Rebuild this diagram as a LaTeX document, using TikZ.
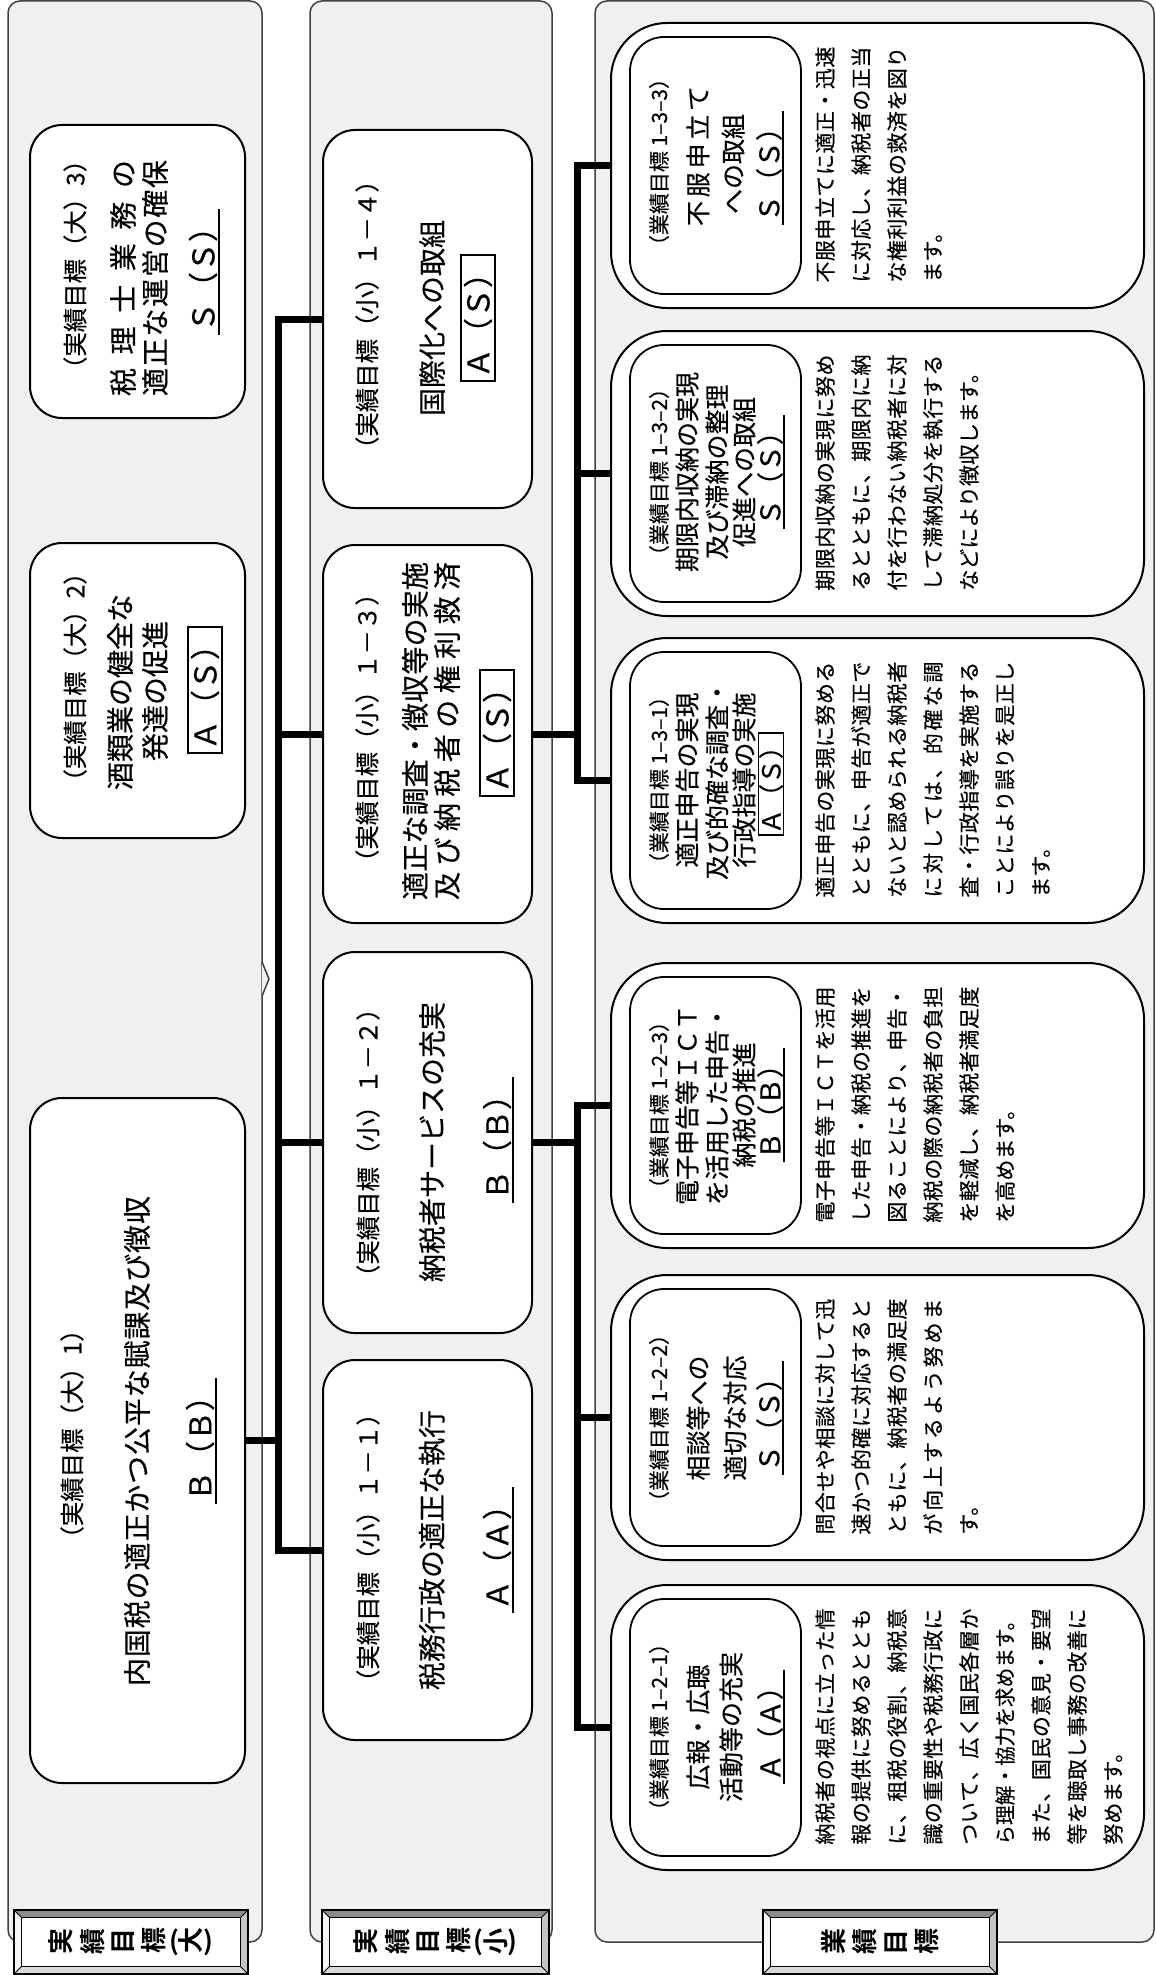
\documentclass[tikz,border=0pt]{standalone}
\usepackage{fontspec}
\usepackage{graphicx}
\newfontfamily\jp{Noto Sans CJK JP}[FakeBold=0.35]
\newfontfamily\jpb{Noto Sans CJK JP Bold}
\newdimen\pxu \pxu=0.5pt
\makeatletter
\newcommand\jsp[2]{\makebox[#1\pxu][s]{\jsp@a#2\@nil}}
\def\jsp@a#1{#1\@ifnextchar\@nil{\@gobble}{\hfil\jsp@a}}
\makeatother
\newcommand\fA{\jp\fontsize{12.2pt}{13pt}\selectfont}
\newcommand\fB{\jp\fontsize{14pt}{16pt}\selectfont}
\newcommand\fG{\jp\fontsize{15pt}{16pt}\selectfont}
\newcommand\fC{\jp\fontsize{10.5pt}{12pt}\selectfont}
\newcommand\fD{\jp\fontsize{12.5pt}{14pt}\selectfont}
\newcommand\fH{\jp\fontsize{13.5pt}{14pt}\selectfont}
\newcommand\fE{\jpb\fontsize{13pt}{13pt}\selectfont}
\newcommand\rc[1]{\rotatebox[origin=c]{90}{#1}}
\definecolor{pfill}{HTML}{F0F0F0}
\definecolor{pdraw}{HTML}{404040}
\definecolor{bvT}{HTML}{8C8C8C}
\definecolor{bvR}{HTML}{C4C4C4}
\definecolor{bvB}{HTML}{DADADA}
\definecolor{bvL}{HTML}{F6F6F6}
\tikzset{
 panel/.style={draw=pdraw, line width=0.75pt, fill=pfill, rounded corners=6pt},
 bbox/.style={draw=black, line width=1pt, fill=white, rounded corners=16pt},
 obox/.style={draw=black, line width=1pt, fill=white, rounded corners=28pt},
 ibox/.style={draw=black, line width=0.9pt, fill=white, rounded corners=17pt},
 conn/.style={line width=3.5pt, black},
 vt/.style={rotate=90, inner sep=0pt},
 frm/.style={draw, line width=0.8pt, inner xsep=1.5pt, inner ysep=1.5pt},
 ulst/.style={line width=1pt},
 bvlab/.style={draw, line width=0.75pt, fill=white, inner sep=0pt},
}
\newcommand\bx[6][]{\node[inner sep=0pt, #1, minimum width={(#5-#3)*0.5pt}, minimum height={(#6-#4)*0.5pt}] (#2) at ({(#3+#5)/2},{(#4+#6)/2}) {};}
\newcommand\vt[5][]{\node[vt,#1] (#2) at (#3,#4) {#5};}
\newcommand\ul[1]{\draw[ulst] ([xshift=0.6pt,yshift=-1.5pt]#1.south west) -- ([xshift=0.6pt,yshift=1.5pt]#1.south east);}
\newcommand\bl[4]{\node[vt,anchor=west] (#1) at (#2,#3) {\fC\jsp{236}{#4}};}
\newcommand\bn[4]{\node[vt,anchor=west] (#1) at (#2,#3) {\fC #4};}
\newcommand\bevlab[6]{%
 \node[bvlab, minimum width={(#4-#2)*0.5pt}, minimum height={(#5-#3)*0.5pt}] (#1) at ({(#2+#4)/2},{(#3+#5)/2}) {};
 \fill[bvT] (#1.north west) -- (#1.north east) -- ([shift={(-7,7)}]#1.north east) -- ([shift={(7,7)}]#1.north west) -- cycle;
 \fill[bvR] (#1.north east) -- (#1.south east) -- ([shift={(-7,-7)}]#1.south east) -- ([shift={(-7,7)}]#1.north east) -- cycle;
 \fill[bvB] (#1.south east) -- (#1.south west) -- ([shift={(7,-7)}]#1.south west) -- ([shift={(-7,-7)}]#1.south east) -- cycle;
 \fill[bvL] (#1.south west) -- (#1.north west) -- ([shift={(7,7)}]#1.north west) -- ([shift={(7,-7)}]#1.south west) -- cycle;
 \draw[line width=0.4pt] (#1.north west) -- ([shift={(7,7)}]#1.north west) (#1.north east) -- ([shift={(-7,7)}]#1.north east) (#1.south east) -- ([shift={(-7,-7)}]#1.south east) (#1.south west) -- ([shift={(7,-7)}]#1.south west);
 \draw[line width=0.5pt] ([shift={(7,7)}]#1.north west) rectangle ([shift={(-7,-7)}]#1.south east);
 \draw[line width=0.9pt] (#1.north west) rectangle (#1.south east);
 \node[inner sep=0pt] (#1t) at (#1) {#6};}
\begin{document}
\begin{tikzpicture}[x=0.5pt,y=-0.5pt]
\useasboundingbox (0,0) rectangle (1156,1975);
\fill[white] (0,0) rectangle (1156,1975);
% panels
\draw[panel] (8,1) rectangle (262,1942);
\draw[panel] (310,1) rectangle (552,1942);
\draw[panel] (595,1) rectangle (1154,1942);
\filldraw[fill=pfill, draw=pdraw, line width=0.75pt] (262,962) -- (269,979) -- (262,996);
% boxes
\bx[bbox]{d3}{30}{125}{245}{418}
\bx[bbox]{d2}{30}{543}{245}{838}
\bx[bbox]{d1}{30}{1098}{245}{1783}
\bx[bbox]{s14}{323}{130}{532}{508}
\bx[bbox]{s13}{323}{545}{532}{923}
\bx[bbox]{s12}{323}{952}{532}{1333}
\bx[bbox]{s11}{323}{1360}{532}{1740}
\bx[obox]{g133}{611}{23}{1144}{308}
\bx[obox]{g132}{611}{331}{1144}{616}
\bx[obox]{g131}{611}{638}{1144}{923}
\bx[obox]{g123}{611}{963}{1144}{1248}
\bx[obox]{g122}{611}{1275}{1144}{1560}
\bx[obox]{g121}{611}{1585}{1144}{1870}
\bx[ibox]{h133}{630}{37}{801}{294}
\bx[ibox]{h132}{630}{345}{801}{602}
\bx[ibox]{h131}{630}{652}{801}{909}
\bx[ibox]{h123}{630}{977}{801}{1234}
\bx[ibox]{h122}{630}{1289}{801}{1546}
\bx[ibox]{h121}{630}{1599}{801}{1856}
% connectors
\coordinate (bl) at (278,0);
\coordinate (br) at (577,0);
\draw[conn] (s14.west) -- (s14.west -| bl) -- (s11.west -| bl) -- (s11.west);
\draw[conn] (s13.west) -- (s13.west -| bl);
\draw[conn] (s12.west) -- (s12.west -| bl);
\draw[conn] (d1.east) -- (d1.east -| bl);
\draw[conn] (g133.west) -- (g133.west -| br) -- (g131.west -| br) -- (g131.west);
\draw[conn] (g132.west) -- (g132.west -| br);
\draw[conn] (s13.east) -- (s13.east -| br);
\draw[conn] (g123.west) -- (g123.west -| br) -- (g121.west -| br) -- (g121.west);
\draw[conn] (g122.west) -- (g122.west -| br);
\draw[conn] (s12.east) -- (s12.east -| br);
% big boxes text
\vt{d3a}{75}{271}{\fA\jsp{220}{（実績目標（大）3）}}
\vt{d3b}{123}{278}{\fB\jsp{236}{税理士業務の}}
\vt{d3c}{155}{278}{\fB\jsp{236}{適正な運営の確保}}
\vt{d3d}{203}{272}{\fG Ｓ（Ｓ）}\ul{d3d}
\vt{d2a}{75}{686}{\fA\jsp{215}{（実績目標（大）2）}}
\vt{d2b}{120}{692}{\fB 酒類業の健全な}
\vt{d2c}{155}{691}{\fB 発達の促進}
\vt[frm]{d2d}{205}{690}{\fG Ａ（Ｓ）}
\vt{d1a}{72}{1440}{\fA\jsp{221}{（実績目標（大）1）}}
\vt{d1b}{137}{1441}{\fB\jsp{490}{内国税の適正かつ公平な賦課及び徴収}}
\vt{d1c}{200}{1441}{\fG Ｂ（Ｂ）}\ul{d1c}
\vt{s14a}{367}{320}{\fA\jsp{282}{（実績目標（小）１－４）}}
\vt{s14b}{432}{318}{\fB 国際化への取組}
\vt[frm]{s14c}{478}{318}{\fG Ａ（Ｓ）}
\vt{s13a}{367}{733}{\fA\jsp{282}{（実績目標（小）１－３）}}
\vt{s13b}{415}{731}{\fB\jsp{338}{適正な調査・徴収等の実施}}
\vt{s13c}{447}{731}{\fB\jsp{338}{及び納税者の権利救済}}
\vt[frm]{s13d}{497}{733}{\fG Ａ（Ｓ）}
\vt{s12a}{368}{1145}{\fA\jsp{288}{（実績目標（小）１－２）}}
\vt{s12b}{432}{1142}{\fB 納税者サービスの充実}
\vt{s12c}{497}{1140}{\fG Ｂ（Ｂ）}\ul{s12c}
\vt{s11a}{368}{1550}{\fA\jsp{288}{（実績目標（小）１－１）}}
\vt{s11b}{432}{1550}{\fB 税務行政の適正な執行}
\vt{s11c}{497}{1550}{\fG Ａ（Ａ）}\ul{s11c}
% right titles
\vt{r133a}{659}{162}{\fC（業績目標 1–3–3）}
\vt{r133b}{698}{156}{\fD\jsp{140}{不服申立て}}
\vt{r133c}{733}{164}{\fD への取組}
\vt{r133d}{769}{168}{\fH Ｓ（Ｓ）}\ul{r133d}
\vt{r132a}{659}{472}{\fC（業績目標 1–3–2）}
\vt{r132b}{687}{472}{\fD 期限内収納の実現}
\vt{r132c}{717}{472}{\fD 及び滞納の整理}
\vt{r132d}{744}{472}{\fD 促進への取組}
\vt{r132e}{770}{472}{\fH Ｓ（Ｓ）}\ul{r132e}
\vt{r131a}{659}{780}{\fC（業績目標 1–3–1）}
\vt{r131b}{687}{780}{\fD 適正申告の実現}
\vt{r131c}{717}{780}{\fD 及び的確な調査・}
\vt{r131d}{744}{780}{\fD 行政指導の実施}
\vt[frm,inner xsep=0.5pt,inner ysep=0.3pt]{r131e}{771}{784}{\fD Ａ（Ｓ）}
\vt{r123a}{659}{1105}{\fC（業績目標 1–2–3）}
\vt{r123b}{687}{1105}{\fD 電子申告等ＩＣＴ}
\vt{r123c}{717}{1105}{\fD を活用した申告・}
\vt{r123d}{744}{1105}{\fD 納税の推進}
\vt{r123e}{770}{1105}{\fH Ｂ（Ｂ）}\ul{r123e}
\vt{r122a}{659}{1418}{\fC（業績目標 1–2–2）}
\vt{r122b}{698}{1418}{\fD 相談等への}
\vt{r122c}{735}{1418}{\fD 適切な対応}
\vt{r122d}{769}{1418}{\fH Ｓ（Ｓ）}\ul{r122d}
\vt{r121a}{659}{1727}{\fC（業績目標 1–2–1）}
\vt{r121b}{698}{1727}{\fD 広報・広聴}
\vt{r121c}{731}{1727}{\fD 活動等の充実}
\vt{r121d}{770}{1727}{\fH Ａ（Ａ）}\ul{r121d}
% body texts
\bl{b133a}{825}{283}{不服申立てに適正・迅速}
\bl{b133b}{861}{283}{に対応し、納税者の正当}
\bl{b133c}{897}{283}{な権利利益の救済を図り}
\bn{b133d}{933}{283}{ます。}
\bl{b132a}{825}{591}{期限内収納の実現に努め}
\bl{b132b}{861}{591}{るとともに、期限内に納}
\bl{b132c}{897}{591}{付を行わない納税者に対}
\bl{b132d}{933}{591}{して滞納処分を執行する}
\bn{b132e}{969}{591}{などにより徴収します。}
\bl{b131a}{825}{898}{適正申告の実現に努める}
\bl{b131b}{861}{898}{とともに、申告が適正で}
\bl{b131c}{897}{898}{ないと認められる納税者}
\bl{b131d}{933}{898}{に対しては、的確な調}
\bl{b131e}{969}{898}{査・行政指導を実施する}
\bl{b131f}{1005}{898}{ことにより誤りを是正し}
\bn{b131g}{1041}{898}{ます。}
\bl{b123a}{825}{1223}{電子申告等ＩＣＴを活用}
\bl{b123b}{861}{1223}{した申告・納税の推進を}
\bl{b123c}{897}{1223}{図ることにより、申告・}
\bl{b123d}{933}{1223}{納税の際の納税者の負担}
\bl{b123e}{969}{1223}{を軽減し、納税者満足度}
\bn{b123f}{1005}{1223}{を高めます。}
\bl{b122a}{825}{1535}{問合せや相談に対して迅}
\bl{b122b}{861}{1535}{速かつ的確に対応すると}
\bl{b122c}{897}{1535}{ともに、納税者の満足度}
\bl{b122d}{933}{1535}{が向上するよう努めま}
\bn{b122e}{969}{1535}{す。}
\bl{b121a}{825}{1845}{納税者の視点に立った情}
\bl{b121b}{861}{1845}{報の提供に努めるととも}
\bl{b121c}{897}{1845}{に、租税の役割、納税意}
\bl{b121d}{933}{1845}{識の重要性や税務行政に}
\bl{b121e}{969}{1845}{ついて、広く国民各層か}
\node[vt,anchor=west] (b121f) at (1005,1845) {\fC\scalebox{0.936}[1]{ら理解・協力を求めます。}};
\bl{b121g}{1041}{1845}{また、国民の意見・要望}
\bl{b121h}{1077}{1845}{等を聴取し事務の改善に}
\bn{b121i}{1113}{1845}{努めます。}
% labels
\bevlab{lab1}{15}{1911}{247}{1973}{\fE\rc{実}\hspace{3.5pt}\rc{績}\hspace{3.5pt}\rc{目}\hspace{3.5pt}\rc{標}\hspace{1.5pt}(\rc{大})}
\bevlab{lab2}{323}{1911}{548}{1973}{\fE\rc{実}\hspace{3.5pt}\rc{績}\hspace{3.5pt}\rc{目}\hspace{3.5pt}\rc{標}\hspace{1.5pt}(\rc{小})}
\bevlab{lab3}{764}{1911}{996}{1973}{\fE\rc{業}\hspace{3.5pt}\rc{績}\hspace{3.5pt}\rc{目}\hspace{3.5pt}\rc{標}}
\end{tikzpicture}
\end{document}
